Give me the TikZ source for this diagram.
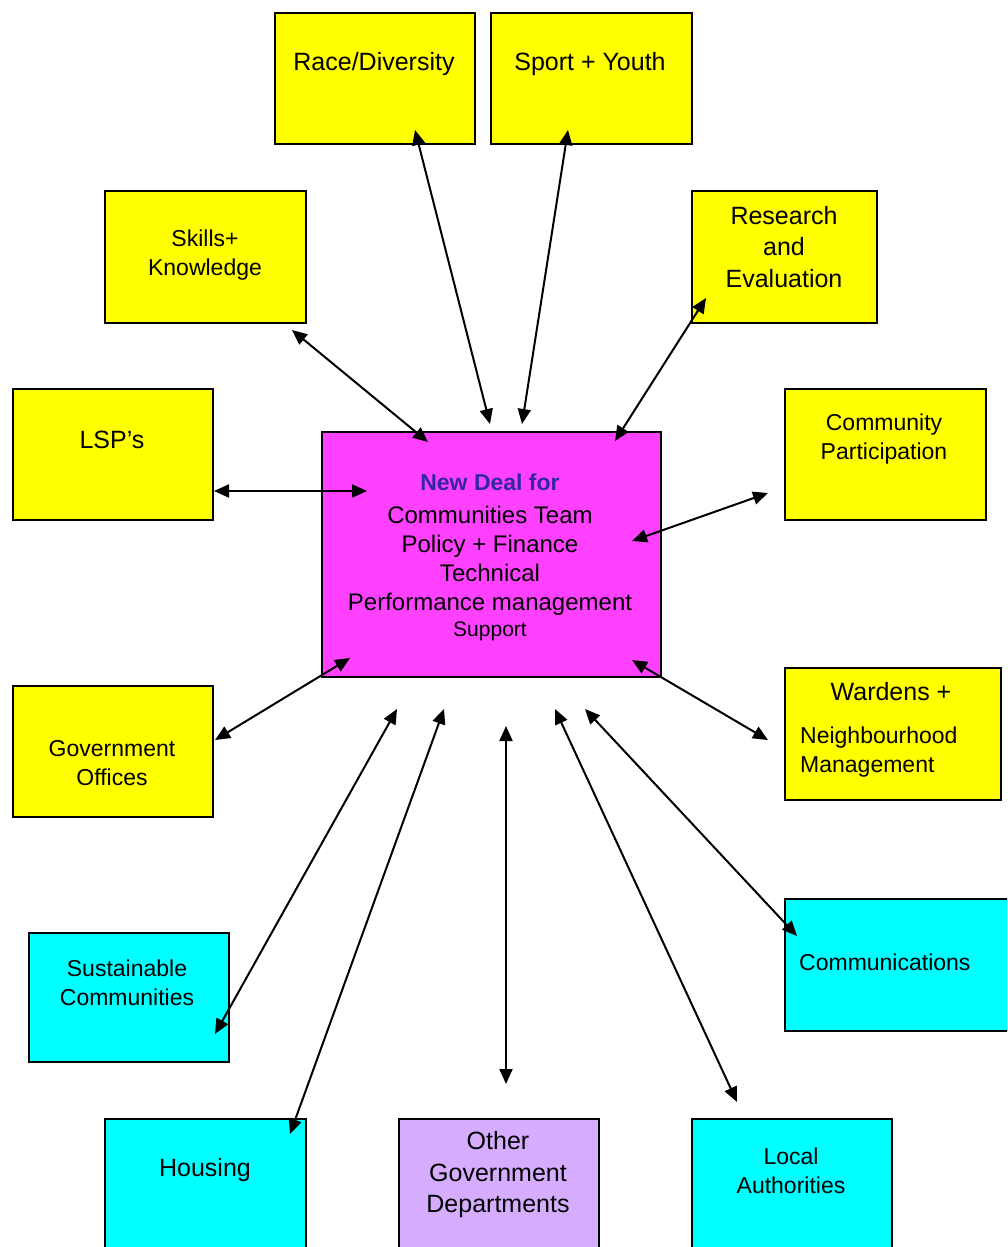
\documentclass[tikz,border=0pt]{standalone}
\usepackage{fontspec}
\setmainfont{Liberation Sans}
\usetikzlibrary{arrows.meta}

\definecolor{boxyellow}{RGB}{255,255,0}
\definecolor{boxcyan}{RGB}{0,255,255}
\definecolor{hubpink}{RGB}{255,64,255}
\definecolor{lilac}{RGB}{214,172,255}
\definecolor{dealblue}{RGB}{52,40,160}

\begin{document}
\begin{tikzpicture}[x=1pt, y=-1pt,
    box/.style={draw=black, line width=2.4pt, anchor=north west, inner sep=0pt},
    yellowbox/.style={box, fill=boxyellow},
    cyanbox/.style={box, fill=boxcyan},
    big/.style={font=\fontsize{25}{31.5}\selectfont, align=center, inner sep=0pt},
    small/.style={font=\fontsize{23}{28.5}\selectfont, align=center, inner sep=0pt},
    link/.style={<->, >={Triangle[length=15pt,width=13pt]}, line width=2pt}]

    \useasboundingbox (0,0) rectangle (1007,1247);
    \clip (0,0) rectangle (1007,1247);

    % boxes
    \node[yellowbox, minimum width=200pt, minimum height=131pt] (race) at (274,12) {};
    \node[yellowbox, minimum width=201pt, minimum height=131pt] (sport) at (490,12) {};
    \node[yellowbox, minimum width=201pt, minimum height=132pt] (skills) at (104,190) {};
    \node[yellowbox, minimum width=185pt, minimum height=132pt] (research) at (691,190) {};
    \node[yellowbox, minimum width=200pt, minimum height=131pt] (lsp) at (12,388) {};
    \node[yellowbox, minimum width=201pt, minimum height=131pt] (community) at (784,388) {};
    \node[box, fill=hubpink, minimum width=339pt, minimum height=245pt] (hub) at (321,431) {};
    \node[yellowbox, minimum width=200pt, minimum height=131pt] (govoffice) at (12,685) {};
    \node[yellowbox, minimum width=216pt, minimum height=132pt] (wardens) at (784,667) {};
    \node[cyanbox, minimum width=200pt, minimum height=129pt] (sustain) at (28,932) {};
    \node[cyanbox, minimum width=260pt, minimum height=132pt] (comms) at (784,898) {};
    \node[cyanbox, minimum width=201pt, minimum height=160pt] (housing) at (104,1118) {};
    \node[box, fill=lilac, minimum width=200pt, minimum height=160pt] (otherdept) at (398,1118) {};
    \node[cyanbox, minimum width=200pt, minimum height=160pt] (localauth) at (691,1118) {};

    % texts
    \node[big] (raceT) at (374,64) {Race/Diversity};
    \node[big] (sportT) at (590,64) {Sport + Youth};
    \node[small] (skillsT) at (205,255) {Skills+\\Knowledge};
    \node[big] (researchT) at (784,247) {Research\\and\\Evaluation};
    \node[big] (lspT) at (112,440) {LSP’s};
    \node[small] (communityT) at (884,439) {Community\\Participation};
    \node[small, font=\fontsize{23}{29}\selectfont\bfseries, text=dealblue] (dealT) at (490,482) {New Deal for};
    \node[small, font=\fontsize{24}{29}\selectfont] (hubT) at (490,561) {Communities Team\\Policy + Finance\\Technical\\Performance management};
    \node[small, font=\fontsize{21}{26}\selectfont] (supportT) at (490,631) {Support};
    \node[small] (govofficeT) at (112,763) {Government\\Offices};
    \node[big] (wardensT) at (891,692) {Wardens +};
    \node[small, align=left, anchor=west] (wardensT2) at (800,752) {Neighbourhood\\Management};
    \node[small] (sustainT) at (127,983) {Sustainable\\Communities};
    \node[small, anchor=west] (commsT) at (799,962) {Communications};
    \node[big] (housingT) at (205,1170) {Housing};
    \node[big] (otherdeptT) at (498,1175) {Other\\Government\\Departments};
    \node[small] (localauthT) at (791,1171) {Local\\Authorities};

    % arrow ends
    \coordinate (raceEnd) at (415,130);
    \coordinate (raceHub) at (490,424);
    \coordinate (sportEnd) at (568,130);
    \coordinate (sportHub) at (522,424);
    \coordinate (skillsEnd) at (292,330);
    \coordinate (skillsHub) at (428,442);
    \coordinate (researchEnd) at (706,298);
    \coordinate (researchHub) at (615,441);
    \coordinate (lspEnd) at (214,491);
    \coordinate (lspHub) at (367,491);
    \coordinate (communityEnd) at (768,493);
    \coordinate (communityHub) at (632,541);
    \coordinate (govofficeEnd) at (215,740);
    \coordinate (govofficeHub) at (350,658);
    \coordinate (wardensEnd) at (768,740);
    \coordinate (wardensHub) at (632,660);
    \coordinate (sustainEnd) at (215,1034);
    \coordinate (sustainHub) at (397,709);
    \coordinate (housingEnd) at (290,1134);
    \coordinate (housingHub) at (444,709);
    \coordinate (otherdeptEnd) at (506,1084);
    \coordinate (otherdeptHub) at (506,726);
    \coordinate (localauthEnd) at (737,1102);
    \coordinate (localauthHub) at (555,709);
    \coordinate (commsEnd) at (797,936);
    \coordinate (commsHub) at (585,709);

    % connectors
    \draw[link] (raceEnd) -- (raceHub);
    \draw[link] (sportEnd) -- (sportHub);
    \draw[link] (skillsEnd) -- (skillsHub);
    \draw[link] (researchEnd) -- (researchHub);
    \draw[link] (lspEnd) -- (lspHub);
    \draw[link] (communityEnd) -- (communityHub);
    \draw[link] (govofficeEnd) -- (govofficeHub);
    \draw[link] (wardensEnd) -- (wardensHub);
    \draw[link] (sustainEnd) -- (sustainHub);
    \draw[link] (housingEnd) -- (housingHub);
    \draw[link] (otherdeptEnd) -- (otherdeptHub);
    \draw[link] (localauthEnd) -- (localauthHub);
    \draw[link] (commsEnd) -- (commsHub);

\end{tikzpicture}
\end{document}
